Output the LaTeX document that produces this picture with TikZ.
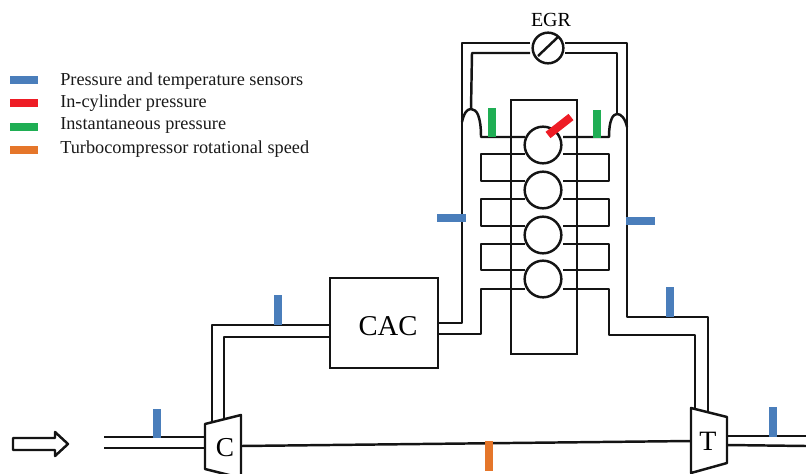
\documentclass[tikz,border=0pt]{standalone}
\usepackage{fontspec}
\setmainfont{Liberation Serif}
\usepackage{tikz}
\usetikzlibrary{positioning,calc}
\definecolor{sensblue}{HTML}{4A7EBB}
\definecolor{sensred}{HTML}{EE1C25}
\definecolor{sensgreen}{HTML}{1FAE54}
\definecolor{sensorange}{HTML}{E5762A}
\definecolor{inkblack}{HTML}{141414}

\begin{document}
\begin{tikzpicture}[x=0.75pt,y=-0.75pt,
      pipe/.style={draw=inkblack,line width=1.85pt,line join=round},
      cyl/.style={circle,draw=inkblack,line width=1.85pt,minimum size=27.5pt,inner sep=0pt},
      box/.style={rectangle,draw=inkblack,line width=1.85pt,inner sep=0pt},
      sensor/.style={line width=6pt},
      legend/.style={anchor=base west,font=\fontsize{13.7}{15}\selectfont,text=black!90,inner sep=0pt}]
      \clip (0,0) rectangle (806,474);
      % legend
      \foreach \col/\ypos in {sensblue/80,sensred/103,sensgreen/127,sensorange/150}
        \draw[sensor,\col] (10,\ypos) -- (38,\ypos);
      \node[legend] at (60,86)  (leg1) {Pressure and temperature sensors};
      \node[legend] at (60,108) (leg2) {In-cylinder pressure};
      \node[legend] at (60,130) (leg3) {Instantaneous pressure};
      \node[legend] at (60,153) (leg4) {Turbocompressor rotational speed};
      % engine
      \node[box,minimum width=49.5pt,minimum height=190.5pt] at (544,227) (block) {};
      \node[cyl] at (543,145) (cyl1) {};
      \node[cyl] at (543,190) (cyl2) {};
      \node[cyl] at (543,235) (cyl3) {};
      \node[cyl] at (543,279) (cyl4) {};
      \node[box,minimum width=81pt,minimum height=67.5pt] at (384,323) (cac) {};
      \node[font=\fontsize{21.5}{24}\selectfont] at (388,326) (cactxt) {CAC};
      \node[cyl,minimum size=23pt] at (548,48) (valve) {};
      \node[font=\fontsize{15}{18}\selectfont] at (551,20) (egr) {EGR};
      \draw[pipe] (538,56) -- (558,37);
      % runners between the cylinders
      \foreach \ya/\yb in {154/181,199/226,244/270} {
        \draw[pipe] (525,\ya) -- (481,\ya) -- (481,\yb) -- (525,\yb);
        \draw[pipe] (563,\ya) -- (609,\ya) -- (609,\yb) -- (563,\yb);
      }
      % EGR loop
      \coordinate (archl) at (471,109);
      \coordinate (archr) at (617,114);
      \draw[pipe] (530,43) -- (462,43) -- (462,323) -- (cac.east |- 0,323);
      \draw[pipe] (530,53) -- (472,53) -- (archl);
      \draw[pipe] (565,43) -- (627,43) -- (627,317) -- (708,317) -- (708,412);
      \draw[pipe] (565,53) -- (617,53) -- (archr);
      \draw[pipe] (462,122) .. controls (464,113) and (467,109) .. (archl)
        .. controls (477,109) and (481,117) .. (481,137) -- (525,137);
      \draw[pipe] (563,137) -- (609,137) .. controls (609,120) and (613,114) .. (archr)
        .. controls (621,114) and (625,118) .. (627,127);
      % manifolds
      \draw[pipe] (525,289) -- (481,289) -- (481,334) -- (cac.east |- 0,334);
      \draw[pipe] (563,289) -- (609,289) -- (609,335) -- (695,335) -- (695,408);
      % compressor and turbine
      \coordinate (cnw) at (205,424);
      \coordinate (cne) at (241,415);
      \coordinate (cse) at (241,478);
      \coordinate (csw) at (205,469);
      \draw[pipe] (cnw) -- (cne) -- (cse) -- (csw) -- cycle;
      \node[font=\fontsize{20.5}{24}\selectfont] at (225,448) (comp) {C};
      \coordinate (tnw) at (691,408);
      \coordinate (tne) at (727,417);
      \coordinate (tse) at (727,463);
      \coordinate (tsw) at (691,473);
      \draw[pipe] (tnw) -- (tne) -- (tse) -- (tsw) -- cycle;
      \node[font=\fontsize{21}{24}\selectfont] at (708,441) (turb) {T};
      \draw[pipe] (241,446) -- (691,441);
      \draw[pipe] (cac.west |- 0,325) -- (212,325) -- (212,423);
      \draw[pipe] (cac.west |- 0,337) -- (224,337) -- (224,418);
      \draw[pipe] (104,437) -- (205,437);
      \draw[pipe] (104,448) -- (205,448);
      \draw[pipe] (727,436) -- (806,436);
      \draw[pipe] (727,445) -- (806,446);
      % inlet arrow
      \draw[pipe] (13,438) -- (55,438) -- (55,432) -- (68,444) -- (55,456) -- (55,450) -- (13,450) -- cycle;
      % sensors
      \foreach \xa/\ya/\xb/\yb in {157/409/157/438,278/295/278/325,670/287/670/317,773/407/773/437,437/218/466/218,626/221/655/221}
        \draw[sensor,sensblue] (\xa,\ya) -- (\xb,\yb);
      \draw[sensor,sensgreen] (492,108) -- (492,137);
      \draw[sensor,sensgreen] (597,110) -- (597,138);
      \draw[sensor,sensred] (548,135) -- (571,117);
      \draw[sensor,sensorange] (489,441) -- (489,471);
    \end{tikzpicture}
\end{document}
